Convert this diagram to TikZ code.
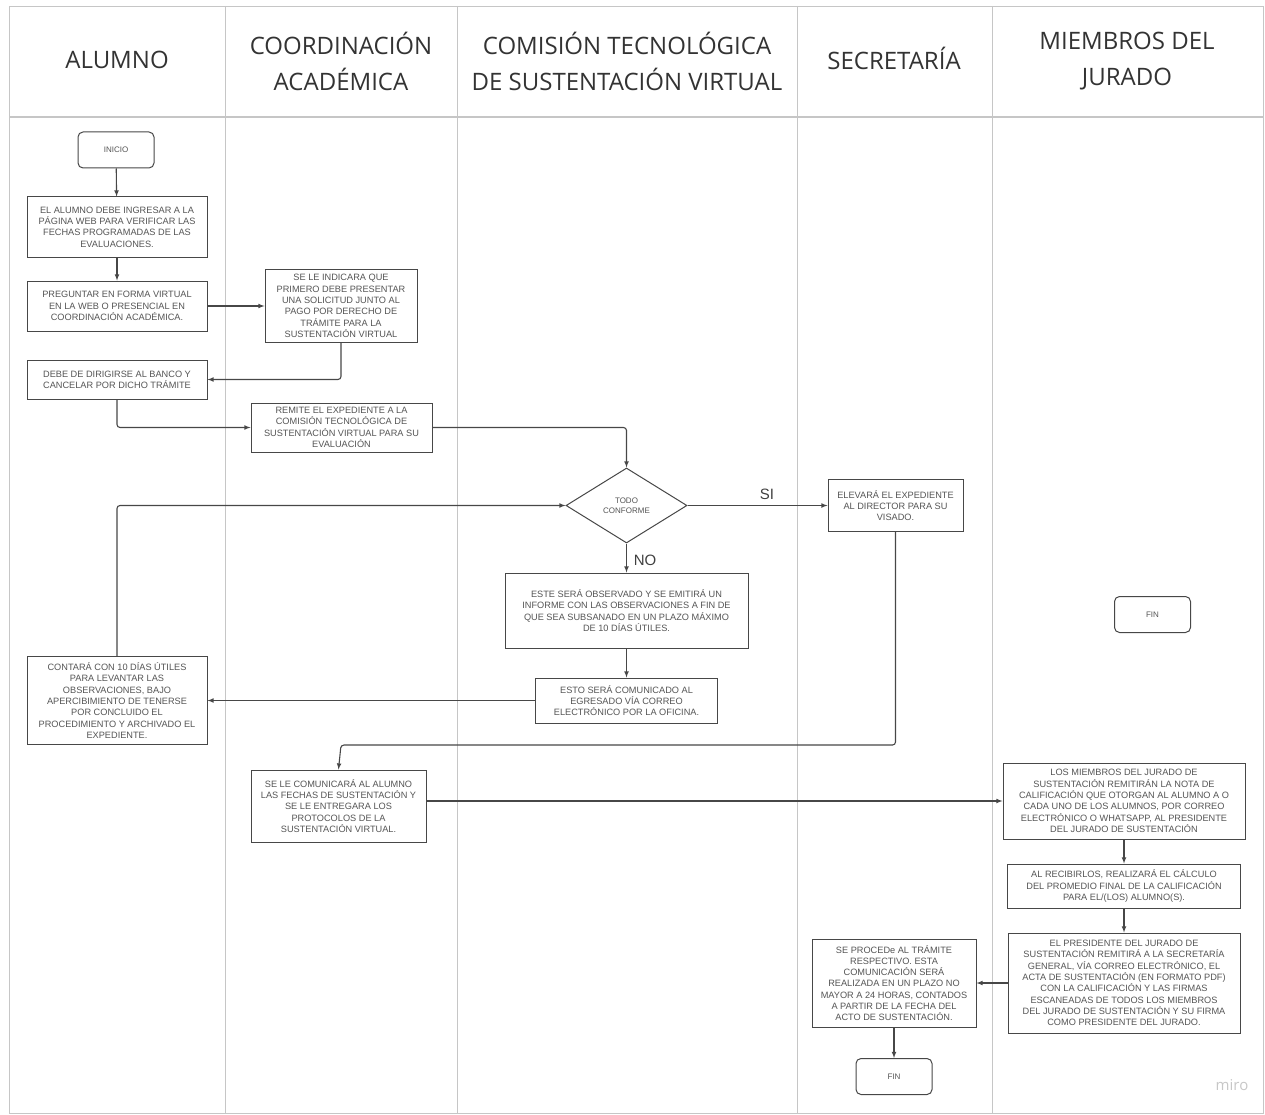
\documentclass[tikz,border=0pt]{standalone}
\usepackage{fontspec}
\setmainfont{Liberation Sans}
\newfontfamily\headfont{Open Sans}
\usetikzlibrary{shapes,arrows,positioning}
\definecolor{lanegray}{HTML}{C6C6C6}
\definecolor{boxgray}{HTML}{474747}
\definecolor{textgray}{HTML}{555555}

\begin{document}
\begin{tikzpicture}[x=1pt, y=-1pt,
    lane/.style={draw=lanegray, line width=0.9pt},
    title/.style={font=\headfont\fontsize{24}{36}\selectfont, text=black!80, align=center},
    task/.style={rectangle, draw=boxgray, line width=1pt, fill=white, text=textgray, align=center, font=\fontsize{9.2}{11.3}\selectfont, inner sep=2pt},
    terminal/.style={rectangle, rounded corners=5pt, draw=boxgray, line width=1pt, fill=white, text=textgray, font=\fontsize{8}{10}\selectfont, minimum width=76pt, minimum height=36pt},
    decision/.style={diamond, draw=boxgray, line width=1pt, fill=white, text=textgray, align=center, font=\fontsize{8}{10}\selectfont, minimum width=121pt, minimum height=75pt, inner sep=0pt},
    arrow/.style={->, >=latex, line width=1.1pt, draw=boxgray, rounded corners=3pt},
    answer/.style={font=\fontsize{15}{15}\selectfont, text=black!75}
]
\useasboundingbox (0,0) rectangle (1265,1115);

\draw[lane] (9,6) rectangle (1263,1113);
\draw[lane, line width=1.6pt] (9,117) -- (1263,117);
\foreach \x in {225,457,797,992}
    \draw[lane] (\x,6) -- (\x,1113);

\node[title] (hAlumno) at (117,60) {ALUMNO};
\node[title] (hCoord) at (341,61) {COORDINACIÓN\\ACADÉMICA};
\node[title] (hComision) at (627,61) {COMISIÓN TECNOLÓGICA\\DE SUSTENTACIÓN VIRTUAL};
\node[title] (hSecret) at (894,58) {SECRETARÍA};
\node[title] (hJurado) at (1127,61) {MIEMBROS DEL\\JURADO};

\node[terminal] (inicio) at (116,150) {INICIO};
\node[task, minimum width=180pt, minimum height=60pt] (ingresar) at (117,227) {EL ALUMNO DEBE INGRESAR A LA\\PÁGINA WEB PARA VERIFICAR LAS\\FECHAS PROGRAMADAS DE LAS\\EVALUACIONES.};
\node[task, minimum width=180pt, minimum height=50pt] (preguntar) at (117,306) {PREGUNTAR EN FORMA VIRTUAL\\EN LA WEB O PRESENCIAL EN\\COORDINACIÓN ACADÉMICA.};
\node[task, minimum width=152pt, minimum height=73pt] (indicar) at (341,306) {SE LE INDICARA QUE\\PRIMERO DEBE PRESENTAR\\UNA SOLICITUD JUNTO AL\\PAGO POR DERECHO DE\\TRÁMITE PARA LA\\SUSTENTACIÓN VIRTUAL};
\node[task, minimum width=180pt, minimum height=39pt] (banco) at (117,379.5) {DEBE DE DIRIGIRSE AL BANCO Y\\CANCELAR POR DICHO TRÁMITE};
\node[task, minimum width=181pt, minimum height=49pt] (remite) at (341.5,427.5) {REMITE EL EXPEDIENTE A LA\\COMISIÓN TECNOLÓGICA DE\\SUSTENTACIÓN VIRTUAL PARA SU\\EVALUACIÓN};
\node[decision] (conforme) at (626.5,505.5) {TODO\\CONFORME};
\node[task, minimum width=135pt, minimum height=52pt] (elevara) at (895.5,505.5) {ELEVARÁ EL EXPEDIENTE\\AL DIRECTOR PARA SU\\VISADO.};
\node[terminal] (finJurado) at (1152.5,614.5) {FIN};
\node[task, minimum width=243pt, minimum height=75pt] (observado) at (626.5,610.5) {ESTE SERÁ OBSERVADO Y SE EMITIRÁ UN\\INFORME CON LAS OBSERVACIONES A FIN DE\\QUE SEA SUBSANADO EN UN PLAZO MÁXIMO\\DE 10 DÍAS ÚTILES.};
\node[task, minimum width=182pt, minimum height=45pt] (comunicado) at (626.5,700.5) {ESTO SERÁ COMUNICADO AL\\EGRESADO VÍA CORREO\\ELECTRÓNICO POR LA OFICINA.};
\node[task, minimum width=180pt, minimum height=88pt] (contara) at (117,700.5) {CONTARÁ CON 10 DÍAS ÚTILES\\PARA LEVANTAR LAS\\OBSERVACIONES, BAJO\\APERCIBIMIENTO DE TENERSE\\POR CONCLUIDO EL\\PROCEDIMIENTO Y ARCHIVADO EL\\EXPEDIENTE.};
\node[task, minimum width=175pt, minimum height=72pt] (fechas) at (338.5,806) {SE LE COMUNICARÁ AL ALUMNO\\LAS FECHAS DE SUSTENTACIÓN Y\\SE LE ENTREGARA LOS\\PROTOCOLOS DE LA\\SUSTENTACIÓN VIRTUAL.};
\node[task, minimum width=242pt, minimum height=76pt] (notas) at (1124,801) {LOS MIEMBROS DEL JURADO DE\\SUSTENTACIÓN REMITIRÁN LA NOTA DE\\CALIFICACIÓN QUE OTORGAN AL ALUMNO A O\\CADA UNO DE LOS ALUMNOS, POR CORREO\\ELECTRÓNICO O WHATSAPP, AL PRESIDENTE\\DEL JURADO DE SUSTENTACIÓN};
\node[task, minimum width=233pt, minimum height=44pt] (promedio) at (1124,886) {AL RECIBIRLOS, REALIZARÁ EL CÁLCULO\\DEL PROMEDIO FINAL DE LA CALIFICACIÓN\\PARA EL/(LOS) ALUMNO(S).};
\node[task, minimum width=232pt, minimum height=100pt] (acta) at (1124,983) {EL PRESIDENTE DEL JURADO DE\\SUSTENTACIÓN REMITIRÁ A LA SECRETARÍA\\GENERAL, VÍA CORREO ELECTRÓNICO, EL\\ACTA DE SUSTENTACIÓN (EN FORMATO PDF)\\CON LA CALIFICACIÓN Y LAS FIRMAS\\ESCANEADAS DE TODOS LOS MIEMBROS\\DEL JURADO DE SUSTENTACIÓN Y SU FIRMA\\COMO PRESIDENTE DEL JURADO.};
\node[task, minimum width=164pt, minimum height=88pt] (procede) at (894,983) {SE PROCEDe AL TRÁMITE\\RESPECTIVO. ESTA\\COMUNICACIÓN SERÁ\\REALIZADA EN UN PLAZO NO\\MAYOR A 24 HORAS, CONTADOS\\A PARTIR DE LA FECHA DEL\\ACTO DE SUSTENTACIÓN.};
\node[terminal] (finSecret) at (894,1076.5) {FIN};

\coordinate (retorno) at (341,745);

\draw[arrow] (inicio) -- (ingresar);
\draw[arrow] (ingresar) -- (preguntar);
\draw[arrow] (preguntar) -- (indicar);
\draw[arrow] (indicar.south) |- (banco.east);
\draw[arrow] (banco.south) |- (remite.west);
\draw[arrow] (remite.east) -| (conforme.north);
\draw[arrow] (contara.north) |- (conforme.west);
\draw[arrow] (conforme.east) -- (elevara.west);
\draw[arrow] (conforme.south) -- (observado.north);
\draw[arrow] (observado) -- (comunicado);
\draw[arrow] (comunicado.west) -- (contara.east);
\draw[arrow] (elevara.south) |- (retorno) -- (fechas.north);
\draw[arrow] (fechas.east |- notas.west) -- (notas.west);
\draw[arrow] (notas) -- (promedio);
\draw[arrow] (promedio) -- (acta);
\draw[arrow] (acta.west) -- (procede.east);
\draw[arrow] (procede) -- (finSecret);

\node[answer] (si) at (767,494) {SI};
\node[answer] (no) at (645,560) {NO};
\node[text=black!22, font=\headfont\fontsize{15}{15}\selectfont] (marca) at (1232,1085) {miro};

\end{tikzpicture}
\end{document}
